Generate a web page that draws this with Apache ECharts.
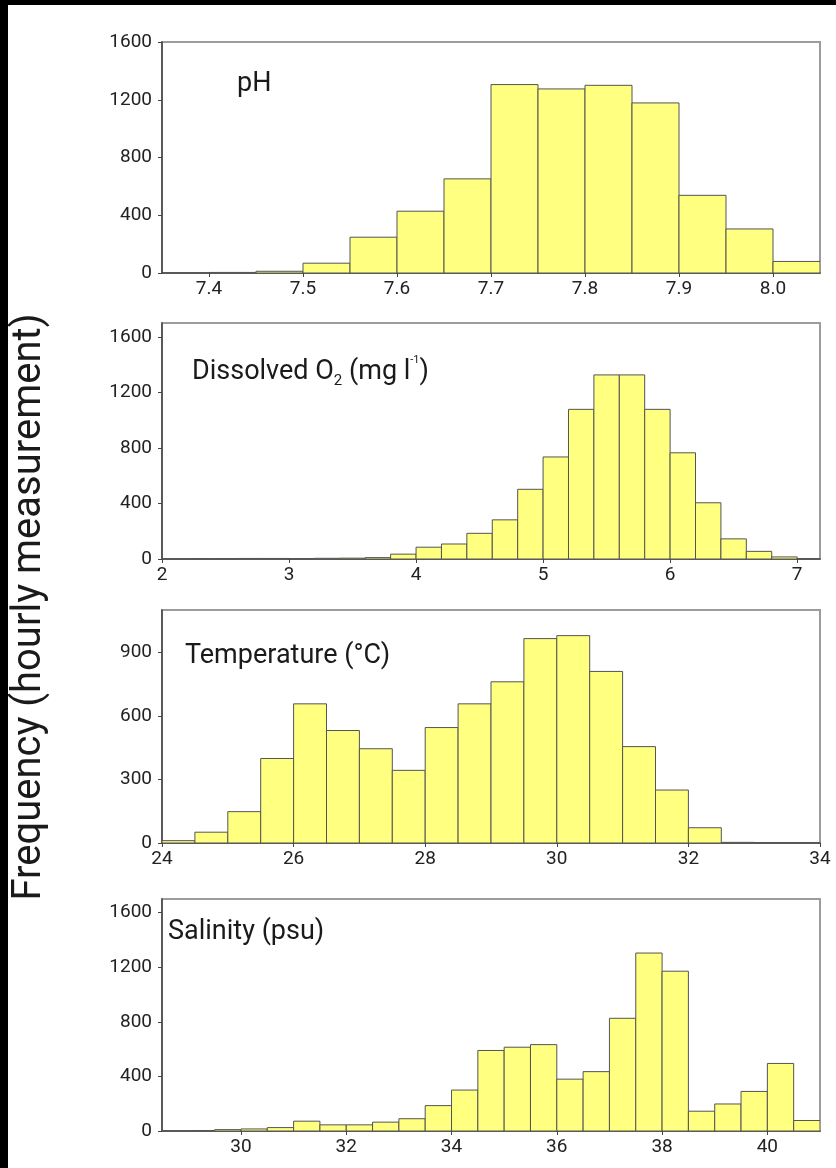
<!DOCTYPE html>
<html>
<head>
<meta charset="utf-8">
<script src="https://cdn.jsdelivr.net/npm/echarts@6/dist/echarts.min.js"></script>
<style>
  html, body { margin: 0; padding: 0; background: #000; width: 836px; height: 1168px; overflow: hidden; }
  #chart { position: absolute; left: 8px; top: 5px; width: 828px; height: 1163px; background: #fff; }
</style>
</head>
<body>
<div id="chart"></div>
<script>
// ---------- DATA ----------
// pH (bin width 0.05)
const phBinStarts = [7.40, 7.45, 7.50, 7.55, 7.60, 7.65, 7.70, 7.75, 7.80, 7.85, 7.90, 7.95, 8.00];
const phCounts    = [4, 12, 68, 248, 428, 652, 1305, 1275, 1300, 1178, 538, 305, 80];
const phBinWidth = 0.05;
const phTicks = [7.4, 7.5, 7.6, 7.7, 7.8, 7.9, 8.0];

// Dissolved O2 (bin width 0.2)
const o2BinStarts = [2.0, 2.2, 2.4, 2.6, 2.8, 3.0, 3.2, 3.4, 3.6, 3.8, 4.0, 4.2, 4.4, 4.6, 4.8,
                     5.0, 5.2, 5.4, 5.6, 5.8, 6.0, 6.2, 6.4, 6.6, 6.8, 7.0];
const o2Counts    = [2, 3, 3, 4, 4, 3, 5, 6, 10, 35, 85, 108, 185, 282, 502,
                     735, 1078, 1326, 1326, 1078, 765, 405, 145, 55, 15, 3];
const o2BinWidth = 0.2;
const o2Ticks = [2, 3, 4, 5, 6, 7];

// Temperature (bin width 0.5)
const tBinStarts = [24, 24.5, 25, 25.5, 26, 26.5, 27, 27.5, 28, 28.5, 29, 29.5,
                    30, 30.5, 31, 31.5, 32, 32.5, 33, 33.5];
const tCounts    = [11, 51, 148, 399, 657, 531, 445, 343, 545, 657, 761, 965,
                    979, 810, 455, 250, 72, 3, 0, 2];
const tBinWidth = 0.5;
const tTicks = [24, 26, 28, 30, 32, 34];

// Salinity (bin width 0.5)
const sBinStarts = [28.5, 29, 29.5, 30, 30.5, 31, 31.5, 32, 32.5, 33, 33.5, 34, 34.5,
                    35, 35.5, 36, 36.5, 37, 37.5, 38, 38.5, 39, 39.5, 40, 40.5];
const sCounts    = [2, 3, 10, 15, 25, 72, 45, 45, 65, 90, 186, 300, 590,
                    614, 633, 380, 435, 826, 1304, 1171, 145, 198, 290, 495, 77];
const sBinWidth = 0.5;
const sTicks = [30, 32, 34, 36, 38, 40];

// y tick labels
const yTicks1600 = [0, 400, 800, 1200, 1600];
const yTicks900  = [0, 300, 600, 900];

// ---------- CHART ----------
const FONT = 'Roboto, "Noto Sans", sans-serif';
const panels = [
  { starts: phBinStarts, counts: phCounts, w: phBinWidth, xmin: 7.35, xmax: 8.05, xticks: phTicks, xfmt: v => v.toFixed(1), ymax: 1600, yticks: yTicks1600, top: 37, height: 231 },
  { starts: o2BinStarts, counts: o2Counts, w: o2BinWidth, xmin: 2, xmax: 7.18, xticks: o2Ticks, xfmt: v => String(Math.round(v)), ymax: 1700, yticks: yTicks1600, top: 318, height: 236 },
  { starts: tBinStarts, counts: tCounts, w: tBinWidth, xmin: 24, xmax: 34, xticks: tTicks, xfmt: v => String(Math.round(v)), ymax: 1100, yticks: yTicks900, top: 605, height: 233 },
  { starts: sBinStarts, counts: sCounts, w: sBinWidth, xmin: 28.5, xmax: 41, xticks: sTicks, xfmt: v => String(Math.round(v)), ymax: 1700, yticks: yTicks1600, top: 894, height: 232 }
];

const grids = [], xAxes = [], yAxes = [], series = [];
panels.forEach((p, i) => {
  grids.push({ left: 154, width: 658, top: p.top, height: p.height, show: true,
               borderColor: '#9c9c9c', borderWidth: 2, backgroundColor: 'transparent' });
  xAxes.push({
    type: 'value', gridIndex: i, min: p.xmin, max: p.xmax,
    axisLine: { show: true, onZero: false, lineStyle: { color: '#444', width: 1.5 } },
    axisTick: { show: true, inside: false, length: 4, customValues: p.xticks, lineStyle: { color: '#444' } },
    axisLabel: { show: true, customValues: p.xticks, formatter: p.xfmt, margin: 7,
                 fontFamily: FONT, fontSize: 19, color: '#222' },
    splitLine: { show: false }
  });
  yAxes.push({
    type: 'value', gridIndex: i, min: 0, max: p.ymax,
    axisLine: { show: true, lineStyle: { color: '#444', width: 1.5 } },
    axisTick: { show: true, inside: false, length: 4, customValues: p.yticks, lineStyle: { color: '#444' } },
    axisLabel: { show: true, customValues: p.yticks, margin: 10, formatter: v => String(v),
                 fontFamily: FONT, fontSize: 19, color: '#222' },
    splitLine: { show: false }
  });
  const data = p.starts.map((s, k) => [s, s + p.w, p.counts[k]]);
  series.push({
    type: 'custom', xAxisIndex: i, yAxisIndex: i, data: data,
    encode: { x: [0, 1], y: 2 },
    clip: true,
    renderItem: function (params, api) {
      const a = api.coord([api.value(0), api.value(2)]);
      const b = api.coord([api.value(1), 0]);
      return { type: 'rect',
               shape: { x: a[0], y: a[1], width: b[0] - a[0], height: b[1] - a[1] },
               style: { fill: '#ffff80', stroke: '#545454', lineWidth: 1 } };
    }
  });
});

const titleStyle = { fontFamily: FONT, fontSize: 27, color: '#1a1a1a', fontWeight: 'normal' };
const option = {
  backgroundColor: '#fff',
  animation: false,
  grid: grids, xAxis: xAxes, yAxis: yAxes, series: series,
  title: [
    { text: 'pH', left: 229, top: 66, padding: 0, textStyle: titleStyle },
    { text: '{a|Dissolved O}{sub|2}{a| (mg l}{sup|-1}{a|)}', left: 184, top: 350, padding: 0,
      textStyle: Object.assign({}, titleStyle, { rich: {
        a:   { fontFamily: FONT, fontSize: 27, color: '#1a1a1a', lineHeight: 34 },
        sub: { fontFamily: FONT, fontSize: 15, color: '#1a1a1a', lineHeight: 14, verticalAlign: 'bottom' },
        sup: { fontFamily: FONT, fontSize: 11, color: '#1a1a1a', lineHeight: 14, verticalAlign: 'top' }
      } }) },
    { text: 'Temperature (°C)', left: 177, top: 638, padding: 0, textStyle: titleStyle },
    { text: 'Salinity (psu)', left: 160, top: 914, padding: 0, textStyle: titleStyle }
  ],
  graphic: [{
    type: 'text', x: 22, y: 602, rotation: Math.PI / 2,
    style: { text: 'Frequency (hourly measurement)', fontFamily: FONT, fontSize: 40,
             fill: '#1a1a1a', align: 'center', verticalAlign: 'middle' }
  }]
};

const chart = echarts.init(document.getElementById('chart'), null, { renderer: 'canvas' });
chart.setOption(option);
</script>
</body>
</html>
